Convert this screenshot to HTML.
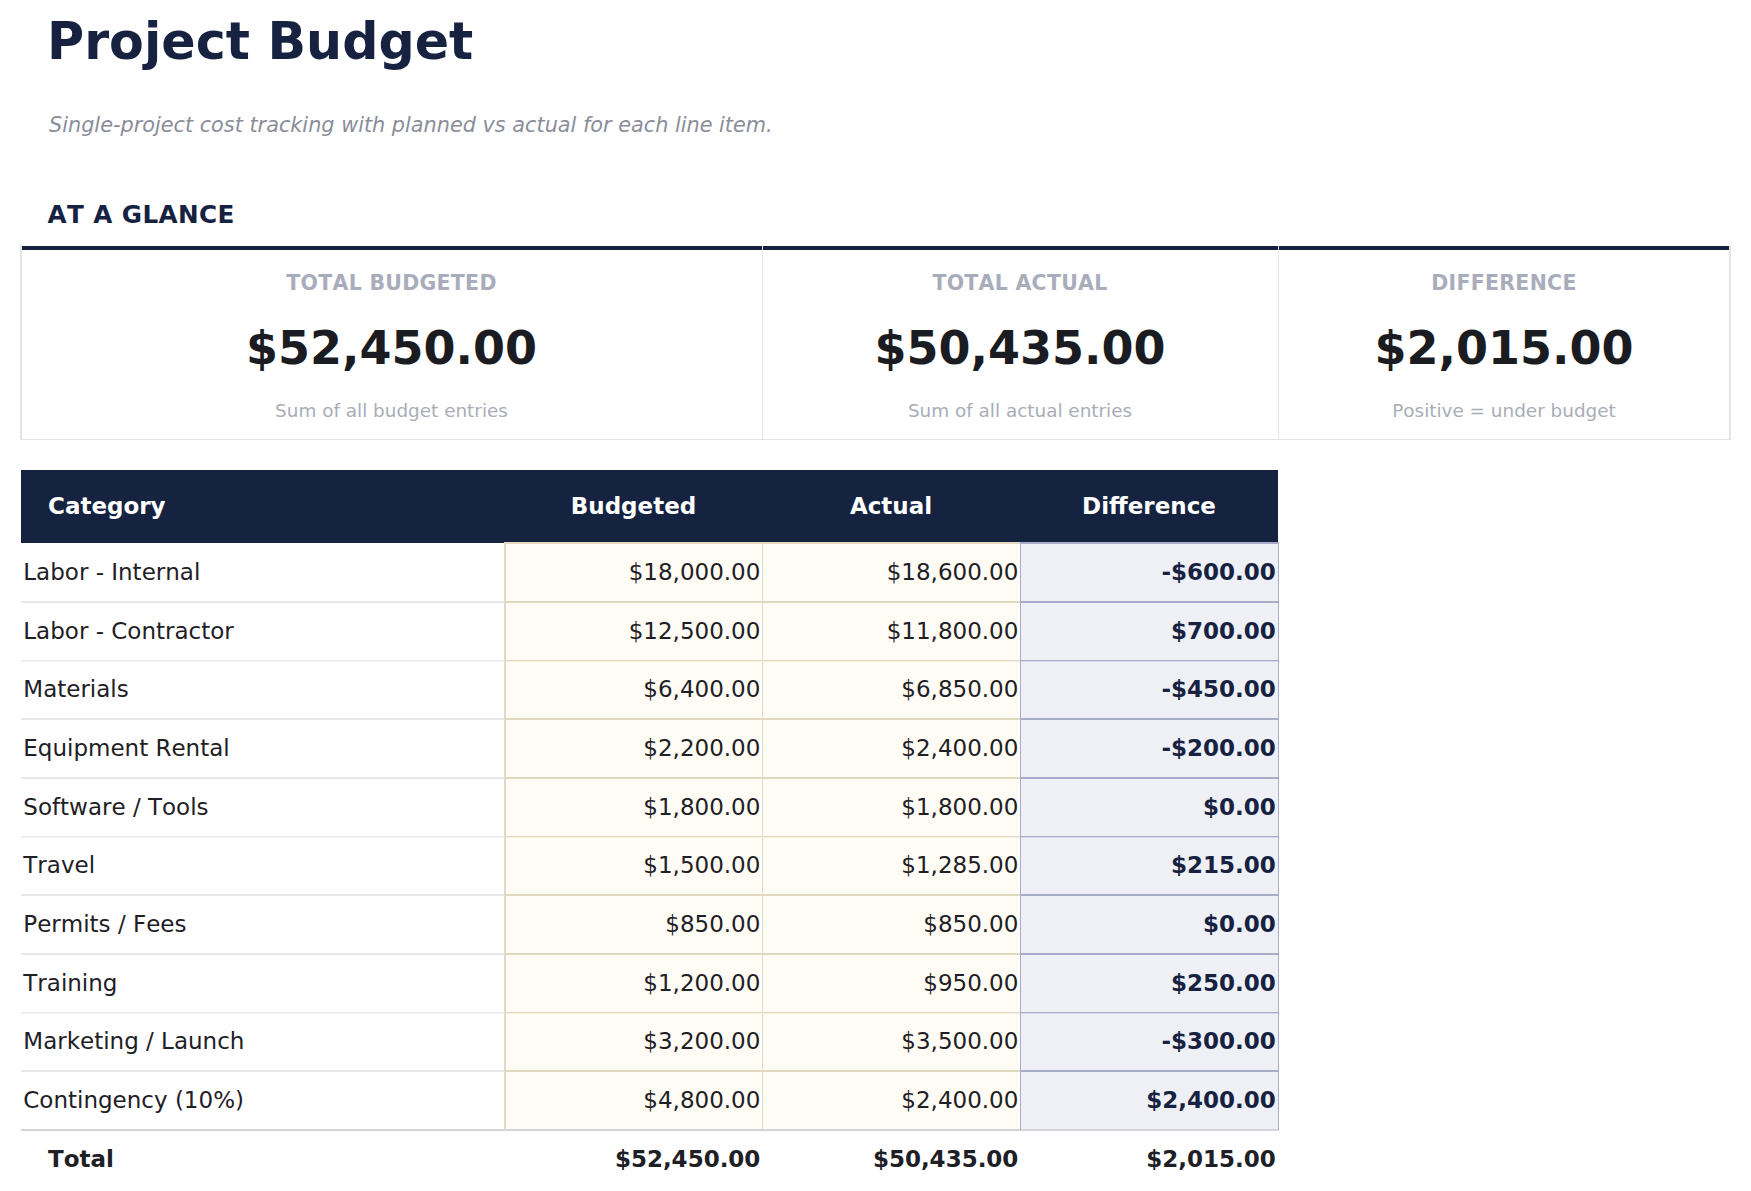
<!DOCTYPE html>
<html lang="en"><head><meta charset="utf-8"><title>Project Budget</title>
<style>
html,body{margin:0;padding:0;background:#fff;}
body{width:1751px;height:1191px;position:relative;overflow:hidden;font-family:"DejaVu Sans","Liberation Sans",sans-serif;color:#1e2025;font-kerning:none;}
.a{position:absolute;white-space:nowrap;line-height:1;}
.title{left:47px;top:17px;font-size:50.67px;font-weight:bold;color:#16223f;}
.sub{left:49px;top:115px;font-size:20.8px;font-style:italic;color:#8a8d99;}
.glance{left:47.6px;top:203.2px;font-size:24.67px;letter-spacing:0.4px;font-weight:bold;color:#16223f;}
.card{position:absolute;top:246px;height:194px;box-sizing:border-box;border-top:4px solid #16223f;border-bottom:1px solid #e4e4e6;}
.clab{position:absolute;left:0;right:0;text-align:center;top:22.6px;font-size:20.5px;letter-spacing:0.27px;font-weight:bold;color:#a9adbb;line-height:1;}
.cval{position:absolute;left:0;right:0;text-align:center;top:74.5px;font-size:46px;font-weight:bold;color:#1a1c22;line-height:1;}
.csub{position:absolute;left:0;right:0;text-align:center;top:152px;font-size:18.4px;color:#a9adb7;line-height:1;}
.vl{position:absolute;width:1px;background:#e4e4e6;top:246px;height:194px;}
.thead{position:absolute;left:21px;top:470px;width:1257px;height:73px;background:#152340;}
.th{position:absolute;top:495px;font-size:23px;font-weight:bold;color:#fff;line-height:1;text-align:center;}
.cat{left:23.3px;font-size:23px;}
.num{font-size:23px;text-align:right;}
.diff{font-weight:bold;color:#16223f;}
.tot{font-weight:bold;color:#1d2025;}
.ycell{position:absolute;background:#fefcf4;}
.bcell{position:absolute;background:#eef0f6;}
.hl{position:absolute;height:2px;}
.vb{position:absolute;width:2px;}
</style></head>
<body>
<div class="a title">Project Budget</div>
<div class="a sub">Single-project cost tracking with planned vs actual for each line item.</div>
<div class="a glance">AT A GLANCE</div>
<div class="card" style="left:21px;width:741px"><div class="clab">TOTAL BUDGETED</div><div class="cval">$52,450.00</div><div class="csub">Sum of all budget entries</div></div>
<div class="card" style="left:762px;width:516px"><div class="clab">TOTAL ACTUAL</div><div class="cval">$50,435.00</div><div class="csub">Sum of all actual entries</div></div>
<div class="card" style="left:1278px;width:452px"><div class="clab">DIFFERENCE</div><div class="cval">$2,015.00</div><div class="csub">Positive = under budget</div></div>
<div class="vl" style="left:20px;width:2px"></div>
<div class="vl" style="left:762px;width:1px"></div>
<div class="vl" style="left:1278px;width:1px"></div>
<div class="vl" style="left:1729px;width:2px"></div>
<div class="thead"></div>
<div class="a th" style="left:48px;text-align:left">Category</div>
<div class="a th" style="left:505px;width:257px">Budgeted</div>
<div class="a th" style="left:762px;width:258px">Actual</div>
<div class="a th" style="left:1020px;width:258px">Difference</div>
<div class="ycell" style="left:505px;top:543px;width:515px;height:587px"></div>
<div class="bcell" style="left:1020px;top:543px;width:258px;height:587px"></div>
<div class="hl" style="left:504px;width:516px;top:542px;height:1px;background:rgb(225,216,192)"></div>
<div class="hl" style="left:504px;width:516px;top:543px;height:1px;background:rgb(225,216,192)"></div>
<div class="hl" style="left:1020px;width:259px;top:542px;height:1px;background:rgb(169,172,200)"></div>
<div class="hl" style="left:1020px;width:259px;top:543px;height:1px;background:rgb(169,172,200)"></div>
<div class="hl" style="left:21px;width:483px;top:601px;height:1px;background:rgb(231,231,233)"></div>
<div class="hl" style="left:21px;width:483px;top:602px;height:1px;background:rgb(231,231,233)"></div>
<div class="hl" style="left:504px;width:516px;top:601px;height:1px;background:rgb(225,216,192)"></div>
<div class="hl" style="left:504px;width:516px;top:602px;height:1px;background:rgb(225,216,192)"></div>
<div class="hl" style="left:1020px;width:259px;top:601px;height:1px;background:rgb(169,172,200)"></div>
<div class="hl" style="left:1020px;width:259px;top:602px;height:1px;background:rgb(169,172,200)"></div>
<div class="hl" style="left:21px;width:483px;top:660px;height:1px;background:rgb(231,231,233)"></div>
<div class="hl" style="left:21px;width:483px;top:661px;height:1px;background:rgb(248,248,248)"></div>
<div class="hl" style="left:504px;width:516px;top:660px;height:1px;background:rgb(225,216,192)"></div>
<div class="hl" style="left:504px;width:516px;top:661px;height:1px;background:rgb(245,241,228)"></div>
<div class="hl" style="left:1020px;width:259px;top:660px;height:1px;background:rgb(169,172,200)"></div>
<div class="hl" style="left:1020px;width:259px;top:661px;height:1px;background:rgb(217,220,232)"></div>
<div class="hl" style="left:21px;width:483px;top:718px;height:1px;background:rgb(231,231,233)"></div>
<div class="hl" style="left:21px;width:483px;top:719px;height:1px;background:rgb(231,231,233)"></div>
<div class="hl" style="left:504px;width:516px;top:718px;height:1px;background:rgb(225,216,192)"></div>
<div class="hl" style="left:504px;width:516px;top:719px;height:1px;background:rgb(225,216,192)"></div>
<div class="hl" style="left:1020px;width:259px;top:718px;height:1px;background:rgb(169,172,200)"></div>
<div class="hl" style="left:1020px;width:259px;top:719px;height:1px;background:rgb(169,172,200)"></div>
<div class="hl" style="left:21px;width:483px;top:777px;height:1px;background:rgb(231,231,233)"></div>
<div class="hl" style="left:21px;width:483px;top:778px;height:1px;background:rgb(231,231,233)"></div>
<div class="hl" style="left:504px;width:516px;top:777px;height:1px;background:rgb(225,216,192)"></div>
<div class="hl" style="left:504px;width:516px;top:778px;height:1px;background:rgb(225,216,192)"></div>
<div class="hl" style="left:1020px;width:259px;top:777px;height:1px;background:rgb(169,172,200)"></div>
<div class="hl" style="left:1020px;width:259px;top:778px;height:1px;background:rgb(169,172,200)"></div>
<div class="hl" style="left:21px;width:483px;top:836px;height:1px;background:rgb(231,231,233)"></div>
<div class="hl" style="left:21px;width:483px;top:837px;height:1px;background:rgb(248,248,248)"></div>
<div class="hl" style="left:504px;width:516px;top:836px;height:1px;background:rgb(225,216,192)"></div>
<div class="hl" style="left:504px;width:516px;top:837px;height:1px;background:rgb(245,241,228)"></div>
<div class="hl" style="left:1020px;width:259px;top:836px;height:1px;background:rgb(169,172,200)"></div>
<div class="hl" style="left:1020px;width:259px;top:837px;height:1px;background:rgb(217,220,232)"></div>
<div class="hl" style="left:21px;width:483px;top:894px;height:1px;background:rgb(231,231,233)"></div>
<div class="hl" style="left:21px;width:483px;top:895px;height:1px;background:rgb(231,231,233)"></div>
<div class="hl" style="left:504px;width:516px;top:894px;height:1px;background:rgb(225,216,192)"></div>
<div class="hl" style="left:504px;width:516px;top:895px;height:1px;background:rgb(225,216,192)"></div>
<div class="hl" style="left:1020px;width:259px;top:894px;height:1px;background:rgb(169,172,200)"></div>
<div class="hl" style="left:1020px;width:259px;top:895px;height:1px;background:rgb(169,172,200)"></div>
<div class="hl" style="left:21px;width:483px;top:953px;height:1px;background:rgb(231,231,233)"></div>
<div class="hl" style="left:21px;width:483px;top:954px;height:1px;background:rgb(231,231,233)"></div>
<div class="hl" style="left:504px;width:516px;top:953px;height:1px;background:rgb(225,216,192)"></div>
<div class="hl" style="left:504px;width:516px;top:954px;height:1px;background:rgb(225,216,192)"></div>
<div class="hl" style="left:1020px;width:259px;top:953px;height:1px;background:rgb(169,172,200)"></div>
<div class="hl" style="left:1020px;width:259px;top:954px;height:1px;background:rgb(169,172,200)"></div>
<div class="hl" style="left:21px;width:483px;top:1012px;height:1px;background:rgb(231,231,233)"></div>
<div class="hl" style="left:21px;width:483px;top:1013px;height:1px;background:rgb(248,248,248)"></div>
<div class="hl" style="left:504px;width:516px;top:1012px;height:1px;background:rgb(225,216,192)"></div>
<div class="hl" style="left:504px;width:516px;top:1013px;height:1px;background:rgb(245,241,228)"></div>
<div class="hl" style="left:1020px;width:259px;top:1012px;height:1px;background:rgb(169,172,200)"></div>
<div class="hl" style="left:1020px;width:259px;top:1013px;height:1px;background:rgb(217,220,232)"></div>
<div class="hl" style="left:21px;width:483px;top:1070px;height:1px;background:rgb(231,231,233)"></div>
<div class="hl" style="left:21px;width:483px;top:1071px;height:1px;background:rgb(231,231,233)"></div>
<div class="hl" style="left:504px;width:516px;top:1070px;height:1px;background:rgb(225,216,192)"></div>
<div class="hl" style="left:504px;width:516px;top:1071px;height:1px;background:rgb(225,216,192)"></div>
<div class="hl" style="left:1020px;width:259px;top:1070px;height:1px;background:rgb(169,172,200)"></div>
<div class="hl" style="left:1020px;width:259px;top:1071px;height:1px;background:rgb(169,172,200)"></div>
<div class="hl" style="left:21px;width:1258px;top:1129px;background:#d2d4d9"></div>
<div class="vb" style="left:504px;width:2px;top:542px;height:588px;background:#e2d9c0"></div>
<div class="vb" style="left:762px;width:1px;top:542px;height:588px;background:#e0dcc8"></div>
<div class="vb" style="left:1020px;width:1px;top:542px;height:588px;background:#a9acc8"></div>
<div class="vb" style="left:1278px;width:1px;top:542px;height:588px;background:#a9acc8"></div>
<div class="a cat" style="top:561.0px">Labor - Internal</div>
<div class="a num" style="left:505px;width:255.4px;top:561.0px">$18,000.00</div>
<div class="a num" style="left:762px;width:256.4px;top:561.0px">$18,600.00</div>
<div class="a num diff" style="left:1020px;width:255.8px;top:561.0px">-$600.00</div>
<div class="a cat" style="top:619.6px">Labor - Contractor</div>
<div class="a num" style="left:505px;width:255.4px;top:619.6px">$12,500.00</div>
<div class="a num" style="left:762px;width:256.4px;top:619.6px">$11,800.00</div>
<div class="a num diff" style="left:1020px;width:255.8px;top:619.6px">$700.00</div>
<div class="a cat" style="top:678.3px">Materials</div>
<div class="a num" style="left:505px;width:255.4px;top:678.3px">$6,400.00</div>
<div class="a num" style="left:762px;width:256.4px;top:678.3px">$6,850.00</div>
<div class="a num diff" style="left:1020px;width:255.8px;top:678.3px">-$450.00</div>
<div class="a cat" style="top:737.0px">Equipment Rental</div>
<div class="a num" style="left:505px;width:255.4px;top:737.0px">$2,200.00</div>
<div class="a num" style="left:762px;width:256.4px;top:737.0px">$2,400.00</div>
<div class="a num diff" style="left:1020px;width:255.8px;top:737.0px">-$200.00</div>
<div class="a cat" style="top:795.6px">Software / Tools</div>
<div class="a num" style="left:505px;width:255.4px;top:795.6px">$1,800.00</div>
<div class="a num" style="left:762px;width:256.4px;top:795.6px">$1,800.00</div>
<div class="a num diff" style="left:1020px;width:255.8px;top:795.6px">$0.00</div>
<div class="a cat" style="top:854.3px">Travel</div>
<div class="a num" style="left:505px;width:255.4px;top:854.3px">$1,500.00</div>
<div class="a num" style="left:762px;width:256.4px;top:854.3px">$1,285.00</div>
<div class="a num diff" style="left:1020px;width:255.8px;top:854.3px">$215.00</div>
<div class="a cat" style="top:913.0px">Permits / Fees</div>
<div class="a num" style="left:505px;width:255.4px;top:913.0px">$850.00</div>
<div class="a num" style="left:762px;width:256.4px;top:913.0px">$850.00</div>
<div class="a num diff" style="left:1020px;width:255.8px;top:913.0px">$0.00</div>
<div class="a cat" style="top:971.6px">Training</div>
<div class="a num" style="left:505px;width:255.4px;top:971.6px">$1,200.00</div>
<div class="a num" style="left:762px;width:256.4px;top:971.6px">$950.00</div>
<div class="a num diff" style="left:1020px;width:255.8px;top:971.6px">$250.00</div>
<div class="a cat" style="top:1030.3px">Marketing / Launch</div>
<div class="a num" style="left:505px;width:255.4px;top:1030.3px">$3,200.00</div>
<div class="a num" style="left:762px;width:256.4px;top:1030.3px">$3,500.00</div>
<div class="a num diff" style="left:1020px;width:255.8px;top:1030.3px">-$300.00</div>
<div class="a cat" style="top:1089.0px">Contingency (10%)</div>
<div class="a num" style="left:505px;width:255.4px;top:1089.0px">$4,800.00</div>
<div class="a num" style="left:762px;width:256.4px;top:1089.0px">$2,400.00</div>
<div class="a num diff" style="left:1020px;width:255.8px;top:1089.0px">$2,400.00</div>
<div class="a num tot" style="left:48px;top:1148px">Total</div>
<div class="a num tot" style="left:505px;width:255.4px;top:1148px">$52,450.00</div>
<div class="a num tot" style="left:762px;width:256.4px;top:1148px">$50,435.00</div>
<div class="a num tot" style="left:1020px;width:255.8px;top:1148px">$2,015.00</div>
</body></html>
